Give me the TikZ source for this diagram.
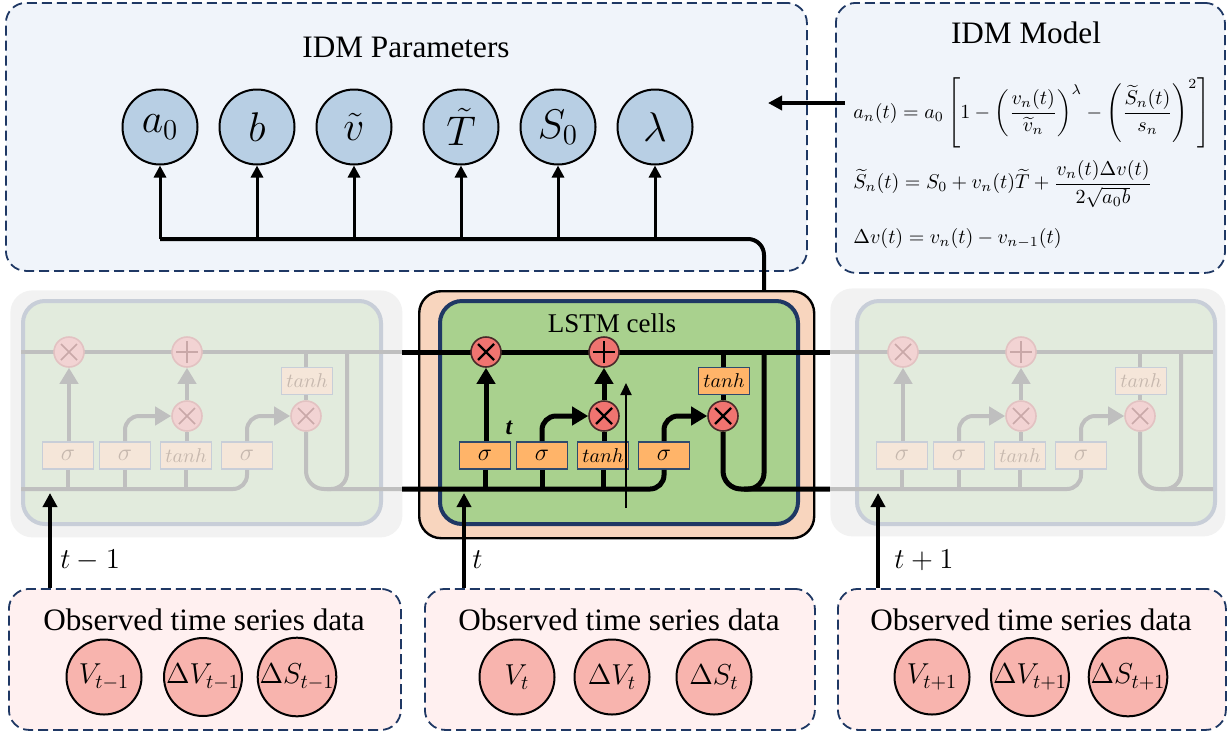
\documentclass[tikz,border=0pt]{standalone}
\usepackage{amsmath}
\usepackage{amssymb}
\usepackage{fontspec}
\setmainfont{Liberation Serif}
\usetikzlibrary{arrows.meta}

\definecolor{navy}{HTML}{1F3864}
\definecolor{panelblue}{HTML}{F0F4FA}
\definecolor{panelpink}{HTML}{FFF0F0}
\definecolor{parblue}{HTML}{B8CFE4}
\definecolor{obsred}{HTML}{F8B4AE}
\definecolor{peach}{HTML}{F8D5BE}
\definecolor{cellgreen}{HTML}{A9D18E}
\definecolor{gateorange}{HTML}{FFB469}
\definecolor{gatenavy}{HTML}{2F4A6D}
\definecolor{opred}{HTML}{F07470}
\definecolor{opline}{HTML}{4A2A2A}
\definecolor{fadebg}{HTML}{F2F2F2}
\definecolor{fadegreen}{HTML}{E2EBDD}
\definecolor{fadeborder}{HTML}{C8CED8}
\definecolor{fadeline}{HTML}{BFBFBF}
\definecolor{fadegate}{HTML}{F5E6D9}
\definecolor{fadeop}{HTML}{F2D3D3}
\definecolor{fadeopline}{HTML}{E2C2C2}
\definecolor{fadesym}{HTML}{C9A8A8}
\definecolor{fadetext}{HTML}{C6B8AE}

% one LSTM cell: #1 left edge of the cell body, #2 name prefix, #3/#4 ends of the state lines
\newcommand{\lstmcell}[4]{%
  \node[cellbody, minimum width=179pt, minimum height=111.5pt, anchor=north west] (#2-body) at (#1,299) {};
  \draw[cellline] (#3,352) -- (#4,352);
  \node[gatebox] (#2-sg1) at (#1+47,455.5) {$\sigma$};
  \node[gatebox] (#2-sg2) at (#1+104,455.5) {$\sigma$};
  \node[tanhbox] (#2-tg) at (#1+165,455.5) {$tanh$};
  \node[gatebox] (#2-sg3) at (#1+226,455.5) {$\sigma$};
  \node[tanhbox] (#2-tt) at (#1+286,381) {$tanh$};
  \node[opmul] (#2-f) at (#1+48,352) {};
  \node[opadd] (#2-a) at (#1+166,352) {};
  \node[opmul] (#2-i) at (#1+166,416) {};
  \node[opmul] (#2-o) at (#1+285,416) {};
  % input line and gate stems
  \draw[cellline, rounded corners=7pt] (#3,489) -| (#2-sg3.south);
  \draw[cellline] (#2-sg1.south) -- (#2-sg1.south |- 0,489);
  \draw[cellline] (#2-sg2.south) -- (#2-sg2.south |- 0,489);
  \draw[cellline] (#2-tg.south) -- (#2-tg.south |- 0,489);
  % gates to the operations
  \draw[cellarrow] (#2-f |- #2-sg1.north) -- (#2-f.south);
  \draw[cellarrow, rounded corners=7pt] (#2-sg2.north) |- (#2-i.west);
  \draw[cellline] (#2-i |- #2-tg.north) -- (#2-i.south);
  \draw[cellarrow] (#2-i.north) -- (#2-a.south);
  \draw[cellarrow, rounded corners=7pt] (#2-sg3.north) |- (#2-o.west);
  \draw[cellline] (#2-o.north) -- (#2-o |- #2-tt.south);
  \draw[cellline] (#2-o |- #2-tt.north) -- (#2-o |- 0,352);
  % output loop
  \draw[cellline, rounded corners=9pt] (#2-o.south) |- (#4,489);
  \draw[cellline, rounded corners=8pt] (#1+326,352) |- (#1+306,489);
}

\begin{document}
\begin{tikzpicture}[x=0.5pt, y=-0.5pt]
  \tikzset{
    panel/.style={draw=navy, line width=0.9pt, dash pattern=on 5pt off 2.5pt, rounded corners=10pt, fill=panelblue, inner sep=0pt},
    obspanel/.style={panel, fill=panelpink},
    title/.style={font=\fontsize{15.6}{16}\selectfont, inner sep=0pt},
    param/.style={circle, draw, line width=1pt, fill=parblue, minimum size=37.5pt, inner sep=0pt, font=\fontsize{21}{21}\selectfont},
    obs/.style={circle, draw, line width=1pt, fill=obsred, minimum size=37.5pt, inner sep=0pt, font=\fontsize{14.5}{14.5}\selectfont},
    eq/.style={font=\fontsize{9.8}{11}\selectfont, inner sep=0pt, anchor=west},
    steplab/.style={font=\fontsize{14.7}{15}\selectfont, inner sep=0pt, anchor=base west},
    pararrow/.style={line width=1.5pt, -{Triangle[length=6pt,width=6pt]}},
    busline/.style={line width=2pt},
    bigarrow/.style={line width=2pt, -{Triangle[length=7pt,width=7pt]}},
    thinarrow/.style={line width=1pt, -{Triangle[length=6pt,width=5.5pt]}},
    cellline/.style={line width=2.5pt, draw=black},
    cellarrow/.style={cellline, -{Triangle[length=8pt,width=9pt]}},
    gatebox/.style={draw=gatenavy, line width=0.8pt, fill=gateorange, minimum width=25.5pt, minimum height=13.5pt, inner sep=0pt, font=\fontsize{13}{13}\selectfont},
    tanhbox/.style={gatebox, font=\fontsize{10}{10}\selectfont},
    opbase/.style={circle, draw=opline, line width=0.8pt, fill=opred, minimum size=15pt, inner sep=0pt},
    opsym/.style={line width=1.1pt, draw=black},
    opmul/.style={opbase, path picture={
      \draw[opsym] ([shift={(-4pt,-4pt)}]path picture bounding box.center) -- ([shift={(4pt,4pt)}]path picture bounding box.center)
                   ([shift={(-4pt,4pt)}]path picture bounding box.center) -- ([shift={(4pt,-4pt)}]path picture bounding box.center);}},
    opadd/.style={opbase, path picture={
      \draw[opsym] ([xshift=-5.5pt]path picture bounding box.center) -- ([xshift=5.5pt]path picture bounding box.center)
                   ([yshift=-5.5pt]path picture bounding box.center) -- ([yshift=5.5pt]path picture bounding box.center);}},
    cellbody/.style={draw=navy, line width=2pt, fill=cellgreen, rounded corners=11pt, inner sep=0pt},
    cellback/.style={draw=black, line width=1.2pt, fill=peach, rounded corners=11pt, inner sep=0pt, anchor=north west},
    fadeback/.style={fill=fadebg, rounded corners=11pt, inner sep=0pt, anchor=north west},
    faded/.style={
      cellline/.style={line width=2pt, draw=fadeline},
      gatebox/.style={draw=fadeborder, line width=0.8pt, fill=fadegate, text=fadetext, minimum width=25.5pt, minimum height=13.5pt, inner sep=0pt, font=\fontsize{13}{13}\selectfont},
      opbase/.style={circle, draw=fadeopline, line width=0.8pt, fill=fadeop, minimum size=15pt, inner sep=0pt},
      opsym/.style={line width=0.8pt, draw=fadesym},
      cellbody/.style={draw=fadeborder, line width=2pt, fill=fadegreen, rounded corners=11pt, inner sep=0pt}}
  }
  \useasboundingbox (0,0) rectangle (1229,734);

  % IDM parameters
  \node[panel, minimum width=400.5pt, minimum height=134pt, anchor=north west] (ppar) at (5,2) {};
  \node[title, anchor=base] (tpar) at (406,57) {IDM Parameters};
  \foreach \x/\n/\lab in {160/a0/{$a_0$}, 257/b/{$b$}, 354/vt/{$\tilde{v}$}, 461/Tt/{$\tilde{T}$}, 558/S0/{$S_0$}, 655/lam/{$\lambda$}}
    \node[param] (\n) at (\x,127) {\lab};
  \coordinate (hout) at (746,489);
  \draw[busline, rounded corners=8pt] (a0 |- 0,239) -| (764,489) -- (hout);
  \foreach \n in {a0,b,vt,Tt,S0,lam}
    \draw[pararrow] (\n |- 0,239) -- (\n.south);

  % IDM model
  \node[panel, minimum width=194.5pt, minimum height=135pt, anchor=north west] (pmod) at (835,2) {};
  \node[title, anchor=base] (tmod) at (1026,43) {IDM Model};
  \node[eq] (eq1) at (853,113) {$a_n(t) = a_0\left[1-\left(\dfrac{v_n(t)}{\widetilde{v}_n}\right)^{\lambda}-\left(\dfrac{\widetilde{S}_n(t)}{s_n}\right)^{2}\right]$};
  \node[eq] (eq2) at (853,184) {$\widetilde{S}_n(t) = S_0+v_n(t)\widetilde{T}+\dfrac{v_n(t)\Delta v(t)}{2\sqrt{a_0b}}$};
  \node[eq] (eq3) at (853,238) {$\Delta v(t) = v_n(t)-v_{n-1}(t)$};
  \coordinate (parin) at (768,103);
  \draw[bigarrow] ([xshift=5pt]pmod.west |- parin) -- (parin);

  % LSTM cells at t-1, t, t+1
  \begin{scope}[faded]
    \node[fadeback, minimum width=196pt, minimum height=123.5pt] (backL) at (10,290) {};
    \lstmcell{21}{L}{21}{402}
  \end{scope}
  \node[cellback, minimum width=197.5pt, minimum height=123.5pt] (backM) at (418,290) {};
  \lstmcell{438}{M}{402}{830}
  \node[font=\fontsize{13.5}{14}\selectfont, inner sep=0pt, anchor=base] (tlstm) at (612,332) {LSTM cells};
  \node[font=\fontsize{12}{12}\selectfont\bfseries\itshape, inner sep=0pt] (tstep) at (509,428) {t};
  \coordinate (thinS) at (626,508);
  \coordinate (thinE) at (626,383);
  \draw[thinarrow] (thinS) -- (thinE);
  \begin{scope}[faded]
    \node[fadeback, minimum width=197.5pt, minimum height=124pt] (backR) at (830,288) {};
    \lstmcell{855}{R}{830}{1213}
  \end{scope}

  % observed data
  \node[obspanel, minimum width=196pt, minimum height=70.5pt, anchor=north west] (pobsL) at (8,588) {};
  \node[obspanel, minimum width=195pt, minimum height=70.5pt, anchor=north west] (pobsM) at (424,588) {};
  \node[obspanel, minimum width=194pt, minimum height=70.5pt, anchor=north west] (pobsR) at (837,588) {};
  \node[title, anchor=base] (tobsL) at (204,630) {Observed time series data};
  \node[title, anchor=base] (tobsM) at (619,630) {Observed time series data};
  \node[title, anchor=base] (tobsR) at (1031,630) {Observed time series data};
  \node[obs] (vL) at (104,677) {$V_{t-1}$};
  \node[obs] (dvL) at (203,677) {$\Delta V_{t-1}$};
  \node[obs] (dsL) at (297,677) {$\Delta S_{t-1}$};
  \node[obs] (vM) at (517,677) {$V_{t}$};
  \node[obs] (dvM) at (612,677) {$\Delta V_{t}$};
  \node[obs] (dsM) at (714,677) {$\Delta S_{t}$};
  \node[obs] (vR) at (932,677) {$V_{t+1}$};
  \node[obs] (dvR) at (1030,677) {$\Delta V_{t+1}$};
  \node[obs] (dsR) at (1128,677) {$\Delta S_{t+1}$};

  % inputs
  \coordinate (inL) at (50,493);
  \coordinate (inM) at (464,493);
  \coordinate (inR) at (878,493);
  \draw[bigarrow] (pobsL.north -| inL) -- (inL);
  \draw[bigarrow] (pobsM.north -| inM) -- (inM);
  \draw[bigarrow] (pobsR.north -| inR) -- (inR);
  \node[steplab] (labL) at (60,568) {$t-1$};
  \node[steplab] (labM) at (472,568) {$t$};
  \node[steplab] (labR) at (894,568) {$t+1$};
\end{tikzpicture}
\end{document}
